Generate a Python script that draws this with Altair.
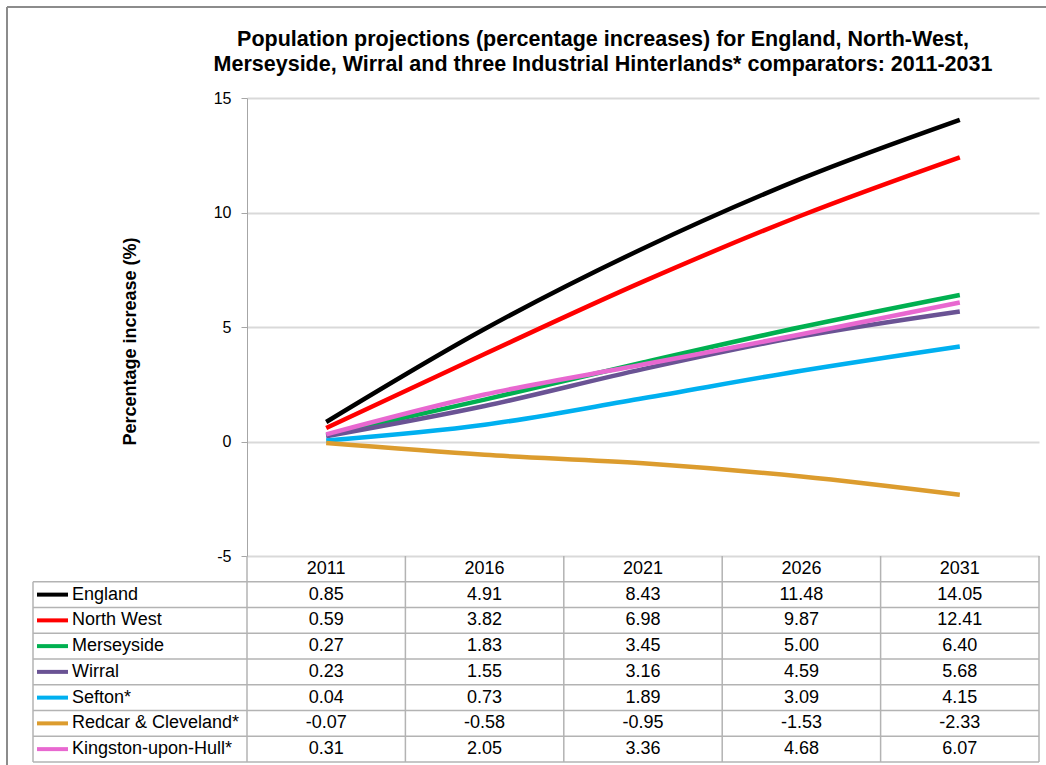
import altair as alt
import pandas as pd

title_lines = ["Population projections (percentage increases) for England, North-West,",
               "Merseyside, Wirral and three Industrial Hinterlands* comparators: 2011-2031"]
years = [2011, 2016, 2021, 2026, 2031]
series = ["England", "North West", "Merseyside", "Wirral", "Sefton*",
          "Redcar & Cleveland*", "Kingston-upon-Hull*"]
colors = ["#000000", "#ff0000", "#00b050", "#6a5394", "#00b0f0", "#dc9c2e", "#e868d0"]
england = [0.85, 4.91, 8.43, 11.48, 14.05]
north_west = [0.59, 3.82, 6.98, 9.87, 12.41]
merseyside = [0.27, 1.83, 3.45, 5.00, 6.40]
wirral = [0.23, 1.55, 3.16, 4.59, 5.68]
sefton = [0.04, 0.73, 1.89, 3.09, 4.15]
redcar = [-0.07, -0.58, -0.95, -1.53, -2.33]
hull = [0.31, 2.05, 3.36, 4.68, 6.07]
values = [england, north_west, merseyside, wirral, sefton, redcar, hull]

rows = []
for i, (s, vals) in enumerate(zip(series, values)):
    for y, v in zip(years, vals):
        rows.append({"series": s, "year": y, "value": v, "row": i + 1,
                     "label": f"{v:.2f}", "order": i})
df = pd.DataFrame(rows)
legend_df = pd.DataFrame({"series": series, "row": list(range(1, len(series) + 1))})
header_df = pd.DataFrame({"year": years, "row": [0] * len(years), "label": [str(y) for y in years]})
step = years[1] - years[0]
vbounds = pd.DataFrame({"xb": [y - step / 2 for y in years] + [years[-1] + step / 2]})
hbounds = pd.DataFrame({"rb": list(range(1, len(series) + 2))})
one = pd.DataFrame({"k": [0]})

W, H = 792, 458
FONT = "Liberation Sans"
GRID = "#d9d9d9"
TLINE = "#b3b3b3"
TFS = 18

xscale = alt.Scale(domain=[years[0] - step / 2, years[-1] + step / 2], nice=False, zero=False)
nrows = len(series) + 1
tscale = alt.Scale(domain=[0, nrows], range=[H, H + 206], nice=False, zero=False)
cscale = alt.Scale(domain=series, range=colors)

lines = alt.Chart(df).mark_line(strokeWidth=4.5, interpolate="monotone", clip=False).encode(
    x=alt.X("year:Q", scale=xscale, axis=None),
    y=alt.Y("value:Q", scale=alt.Scale(domain=[-5, 15], nice=False),
            axis=alt.Axis(values=[-5, 0, 5, 10, 15], title="Percentage increase (%)",
                          labelExpr="'' + datum.value",
                          titleFont=FONT, titleFontSize=18, titleFontWeight="bold",
                          titleColor="#000", titleAngle=270, titleX=-117, titleY=243,
                          titleAlign="center", titleBaseline="middle",
                          labelFont=FONT, labelFontSize=16, labelColor="#000",
                          labelPadding=10, tickSize=6, tickColor="#a6a6a6",
                          domainColor="#a6a6a6", grid=True, gridColor=GRID,
                          gridWidth=2)),
    color=alt.Color("series:N", scale=cscale, legend=None),
    detail="series:N",
    order=alt.Order("order:Q"),
)

hlines = alt.Chart(hbounds).mark_rule(color=TLINE, strokeWidth=1.5).encode(
    x=alt.value(-214), x2=alt.value(W),
    y=alt.Y("rb:Q", scale=tscale, axis=None),
)
vlines = alt.Chart(vbounds).mark_rule(color=TLINE, strokeWidth=1.5).encode(
    x=alt.X("xb:Q", scale=xscale, axis=None),
    y=alt.Y("a:Q", scale=tscale, axis=None),
    y2="b:Q",
).transform_calculate(a="0", b=str(nrows))
vleft = alt.Chart(hbounds).mark_rule(color=TLINE, strokeWidth=1.5).encode(
    x=alt.value(-214),
    y=alt.Y("a:Q", scale=tscale, axis=None),
    y2="b:Q",
).transform_filter("datum.rb == 1").transform_calculate(a="1", b=str(nrows))

header = alt.Chart(header_df).mark_text(font=FONT, fontSize=TFS, color="#000").encode(
    x=alt.X("year:Q", scale=xscale, axis=None),
    y=alt.Y("yc:Q", scale=tscale, axis=None),
    text="label:N",
).transform_calculate(yc="datum.row + 0.5")

cells = alt.Chart(df).mark_text(font=FONT, fontSize=TFS, color="#000").encode(
    x=alt.X("year:Q", scale=xscale, axis=None),
    y=alt.Y("yc:Q", scale=tscale, axis=None),
    text="label:N",
).transform_calculate(yc="datum.row + 0.5")

swatch = alt.Chart(legend_df).mark_rule(strokeWidth=4).encode(
    x=alt.value(-210), x2=alt.value(-179),
    y=alt.Y("yc:Q", scale=tscale, axis=None),
    color=alt.Color("series:N", scale=cscale, legend=None),
).transform_calculate(yc="datum.row + 0.5")

leg_text = alt.Chart(legend_df).mark_text(font=FONT, fontSize=TFS, color="#000", align="left").encode(
    x=alt.value(-175),
    y=alt.Y("yc:Q", scale=tscale, axis=None),
    text="series:N",
).transform_calculate(yc="datum.row + 0.5")

frame_top = alt.Chart(one).mark_rule(color="#8c8c8c", strokeWidth=2).encode(
    x=alt.value(-240), x2=alt.value(W + 20), y=alt.value(-91)
)
frame_left = alt.Chart(one).mark_rule(color="#8c8c8c", strokeWidth=2).encode(
    x=alt.value(-240), y=alt.value(-91), y2=alt.value(H + 220)
)

title1 = alt.Chart(one).mark_text(font=FONT, fontSize=21.5, fontWeight="bold", color="#000",
                                  baseline="middle").encode(
    x=alt.value(356), y=alt.value(-58), text=alt.value(title_lines[0]))
title2 = alt.Chart(one).mark_text(font=FONT, fontSize=21.5, fontWeight="bold", color="#000",
                                  baseline="middle").encode(
    x=alt.value(356), y=alt.value(-33), text=alt.value(title_lines[1]))

chart = alt.layer(
    frame_top, frame_left, title1, title2, hlines, vlines, vleft, lines, header, cells, swatch, leg_text
).resolve_scale(y="independent").properties(
    width=W, height=H,
    autosize=alt.AutoSizeParams(type="none"),
    padding={"left": 247, "top": 98, "right": 7, "bottom": 209},
).configure_view(stroke=None)

chart.save("out.html", embed_options={"renderer": "svg", "actions": False})
